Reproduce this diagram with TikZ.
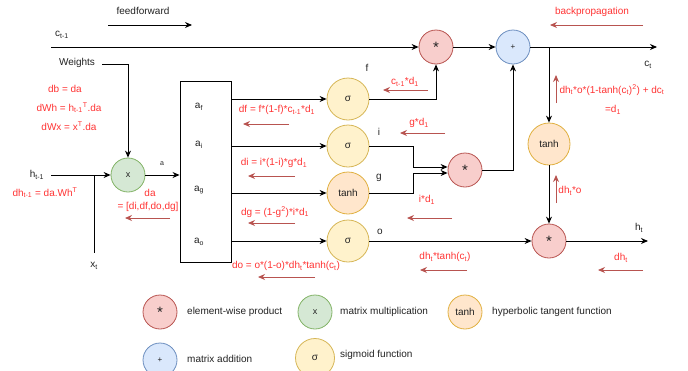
\documentclass[tikz,border=0pt]{standalone}
\usepackage{fontspec}
\setmainfont{Liberation Sans}
\usetikzlibrary{arrows.meta}
\definecolor{redfill}{HTML}{F8CECC}\definecolor{redline}{HTML}{B85450}
\definecolor{grnfill}{HTML}{D5E8D4}\definecolor{grnline}{HTML}{82B366}
\definecolor{orgfill}{HTML}{FFE6CC}\definecolor{orgline}{HTML}{E0B040}
\definecolor{yelfill}{HTML}{FFF2CC}\definecolor{yelline}{HTML}{D6B656}
\definecolor{blufill}{HTML}{DAE8FC}\definecolor{bluline}{HTML}{6C8EBF}
\definecolor{rtext}{HTML}{FF3333}\definecolor{rarrow}{HTML}{B85450}
\definecolor{ink}{HTML}{222222}
\newcommand{\sbs}[1]{\textsubscript{#1}}
\newcommand{\sps}[1]{\textsuperscript{#1}}
\tikzset{
  base/.style={circle,draw,line width=0.8pt,inner sep=0pt,text=ink,font=\fontsize{10}{12}\selectfont},
  stp/.style={base,fill=redfill,draw=redline,minimum size=34pt,font=\fontsize{15}{15}\selectfont},
  pls/.style={base,fill=blufill,draw=bluline,minimum size=34pt,font=\fontsize{8}{8}\selectfont},
  mm/.style={base,fill=grnfill,draw=grnline,minimum size=34pt,font=\fontsize{9}{9}\selectfont},
  tnh/.style={base,fill=orgfill,draw=orgline,minimum size=42pt},
  sig/.style={base,fill=yelfill,draw=yelline,minimum size=42pt},
  arr/.style={draw=black,line width=0.9pt,-{Stealth[length=7pt,width=6pt]}},
  ln/.style={draw=black,line width=0.9pt},
  rarr/.style={draw=rarrow,line width=0.9pt,-{Stealth[length=7pt,width=6pt]}},
  txt/.style={text=ink,font=\fontsize{10}{12}\selectfont,inner sep=0pt},
  rtx/.style={text=rtext,font=\fontsize{10}{12}\selectfont,inner sep=0pt},
  lbl/.style={txt,anchor=west},
}
\begin{document}
\begin{tikzpicture}[x=1pt,y=-1pt]
\useasboundingbox (0,0) rectangle (688,370);
% main nodes
\node[stp] (m1) at (436,47) {*};
\node[pls] (add) at (513,47) {+};
\node[tnh] (tc) at (549,144) {tanh};
\node[stp] (m3) at (549,241) {*};
\node[stp] (m2) at (465,170) {*};
\node[mm] (X) at (128,175) {x};
\node[draw=black,line width=0.9pt,minimum width=51pt,minimum height=181pt,inner sep=0pt] (A) at (205.5,171.5) {};
\node[sig] (sf) at (348,99) {σ};
\node[sig] (si) at (348,146) {σ};
\node[tnh] (tg) at (348,193) {tanh};
\node[sig] (so) at (348,241) {σ};
% coordinates
\coordinate (c0) at (51,47);
\coordinate (ct) at (657,47);
\coordinate (br) at (549,47);
\coordinate (hout) at (648,241);
\coordinate (w0) at (102,64);
\coordinate (hin) at (51,175);
\coordinate (jx) at (94,175);
\coordinate (xt) at (94,253);
\coordinate (ki) at (413,146);
\coordinate (kg) at (413,193);
% connectors
\draw[arr] (c0) -- (m1);
\draw[arr] (m1) -- (add);
\draw[arr] (add) -- (ct);
\draw[arr] (br) -- (tc);
\draw[arr] (tc) -- (m3);
\draw[arr] (m3) -- (hout);
\draw[arr] (so) -- (m3);
\draw[arr] (sf.east) -| (m1.south);
\draw[arr] (si.east) -- (ki) |- ([yshift=3pt]m2.west);
\draw[arr] (tg.east) -- (kg) |- ([yshift=-3pt]m2.west);
\draw[arr] (m2.east) -| (add.south);
\draw[arr] (w0) -| (X.north);
\draw[arr] (hin) -- (X.west);
\draw[ln] (jx) -- (xt);
\draw[arr] (X.east) -- (A.west |- X);
\draw[arr] (A.east |- sf) -- (sf);
\draw[arr] (A.east |- si) -- (si);
\draw[arr] (A.east |- tg) -- (tg);
\draw[arr] (A.east |- so) -- (so);
% black labels
\node[txt] (ff) at (143,11) {feedforward};
\draw[arr] (108,25) -- (192,25);
\node[txt] (lc0) at (62,35) {c\sbs{t-1}};
\node[txt] (lct) at (648,65) {c\sbs{t}};
\node[txt] (lw) at (77,63) {Weights};
\node[txt] (lh) at (37,175) {h\sbs{t-1}};
\node[txt] (lxt) at (94,266) {x\sbs{t}};
\node[txt,font=\fontsize{7}{8}\selectfont] (la) at (162,164) {a};
\node[txt] (af) at (199,107) {a\sbs{f}};
\node[txt] (ai) at (199,145) {a\sbs{i}};
\node[txt] (ag) at (199,190) {a\sbs{g}};
\node[txt] (ao) at (199,242) {a\sbs{o}};
\node[txt] (lf) at (367,68) {f};
\node[txt] (li) at (379,132) {i};
\node[txt] (lg) at (379,178) {g};
\node[txt] (lo) at (380,232) {o};
\node[txt] (lht) at (639,228) {h\sbs{t}};
% red labels and arrows
\node[rtx] (bp) at (592,12) {backpropagation};
\draw[rarr] (643,25) -- (550,25);
\node[rtx] (db) at (65,89) {db = da};
\node[rtx] (dwh) at (69,108) {dWh = h\sbs{t-1}\sps{T}.da};
\node[rtx] (dwx) at (69,126) {dWx = x\sps{T}.da};
\node[rtx] (dht1) at (45,193) {dh\sbs{t-1} = da.Wh\sps{T}};
\node[rtx] (da1) at (150,193) {da};
\node[rtx] (da2) at (148,207) {= [di,df,do,dg]};
\draw[rarr] (170,218) -- (125,218);
\node[rtx] (ldf) at (277,110) {df = f*(1-f)*c\sbs{t-1}*d\sbs{1}};
\draw[rarr] (289,124) -- (243,124);
\node[rtx] (ldi) at (274,163) {di = i*(1-i)*g*d\sbs{1}};
\draw[rarr] (295,176) -- (248,176);
\node[rtx] (ldg) at (275,212) {dg = (1-g\sps{2})*i*d\sbs{1}};
\draw[rarr] (295,223) -- (248,223);
\node[rtx] (ldo) at (286,266) {do = o*(1-o)*dh\sbs{t}*tanh(c\sbs{t})};
\draw[rarr] (315,277) -- (258,277);
\node[rtx] (lcd) at (405,82) {c\sbs{t-1}*d\sbs{1}};
\draw[rarr] (428,90) -- (383,90);
\node[rtx] (lgd) at (419,123) {g*d\sbs{1}};
\draw[rarr] (445,133) -- (400,133);
\node[rtx] (lid) at (427,200) {i*d\sbs{1}};
\draw[rarr] (452,218) -- (407,218);
\node[rtx] (ldht) at (445,257) {dh\sbs{t}*tanh(c\sbs{t})};
\draw[rarr] (467,270) -- (420,270);
\node[rtx] (ld1) at (612,90) {dh\sbs{t}*o*(1-tanh(c\sbs{t})\sps{2}) + dc\sbs{t}};
\node[rtx] (ld1b) at (613,110) {=d\sbs{1}};
\draw[rarr] (556,103) -- (556,75);
\node[rtx] (ldo2) at (570,191) {dh\sbs{t}*o};
\draw[rarr] (556,203) -- (556,175);
\node[rtx] (ldh) at (621,258) {dh\sbs{t}};
\draw[rarr] (643,270) -- (598,270);
% legend
\node[stp] (g1) at (160,312) {*};
\node[lbl] (g1t) at (187,312) {element-wise product};
\node[mm] (g2) at (315,312) {x};
\node[lbl] (g2t) at (340,312) {matrix multiplication};
\node[tnh,minimum size=34pt] (g3) at (465,312) {tanh};
\node[lbl] (g3t) at (492,312) {hyperbolic tangent function};
\node[pls] (g4) at (160,360) {+};
\node[lbl] (g4t) at (187,359) {matrix addition};
\node[sig,minimum size=39pt] (g5) at (315,358) {σ};
\node[lbl] (g5t) at (340,355) {sigmoid function};
\end{tikzpicture}
\end{document}
